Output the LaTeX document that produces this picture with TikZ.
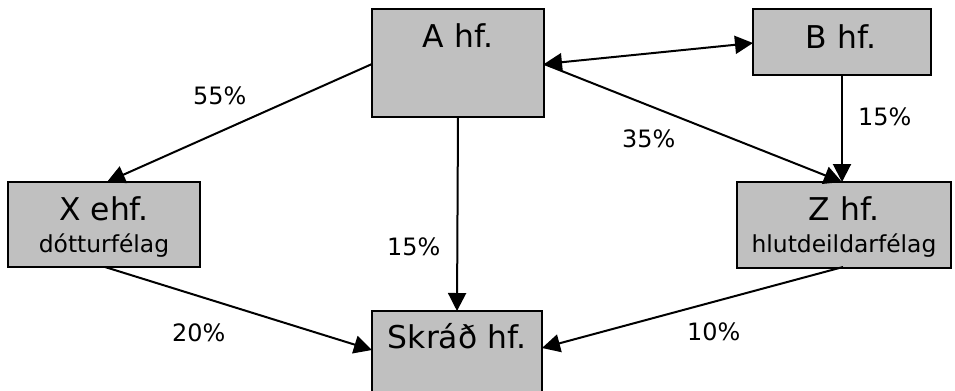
\documentclass[tikz,border=0pt]{standalone}
\usepackage{fontspec}
\setmainfont{DejaVu Sans}
\usetikzlibrary{arrows.meta}
\definecolor{boxgray}{HTML}{C0C0C0}
\tikzset{
  box/.style={draw=black, line width=2bp, fill=boxgray, inner sep=0pt},
  big/.style={font=\fontsize{31.5}{36}\selectfont, inner sep=0pt, anchor=base},
  small/.style={font=\fontsize{23.5}{27}\selectfont, inner sep=0pt, anchor=base},
  pct/.style={font=\fontsize{24}{28}\selectfont, inner sep=0pt, anchor=base west},
  conn/.style={line width=2bp, -{Triangle[length=18bp,width=18bp]}},
  conn2/.style={line width=2bp, {Triangle[length=18bp,width=18bp]}-{Triangle[length=18bp,width=18bp]}},
}
\begin{document}
\begin{tikzpicture}[x=1bp,y=-1bp]
\useasboundingbox (0,0) rectangle (955,390);
% boxes
\node[box, minimum width=172bp, minimum height=108bp] (A) at (458,63) {};
\node[box, minimum width=178bp, minimum height=66bp] (B) at (842,42) {};
\node[box, minimum width=192bp, minimum height=85bp] (X) at (104,224.5) {};
\node[box, minimum width=214bp, minimum height=86bp] (Z) at (844,225) {};
\node[box, minimum width=170bp, minimum height=82bp] (S) at (457,352) {};
% texts
\node[big] (At) at (458,47) {A hf.};
\node[big] (Bt) at (841,48) {B hf.};
\node[big] (Xt) at (104,220) {X ehf.};
\node[small] (Xs) at (104,252) {dótturfélag};
\node[big] (Zt) at (844,220) {Z hf.};
\node[small] (Zs) at (844,252) {hlutdeildarfélag};
\node[big] (St) at (457,348) {Skráð hf.};
% connectors
\coordinate (Aw) at (372,64);
\coordinate (Ae) at (544,64);
\coordinate (Be) at (753,43);
\coordinate (Xn) at (107,182);
\coordinate (Zn) at (842,182);
\coordinate (Bs) at (842,75);
\coordinate (As) at (458,117);
\coordinate (Sn) at (457,311);
\coordinate (Xs2) at (105,267);
\coordinate (Sw) at (372,350);
\coordinate (Zs2) at (843,267);
\coordinate (Se) at (542,348);
\draw[conn] (Aw) -- (Xn);
\draw[conn2] (Ae) -- (Be);
\draw[conn] (Ae) -- (Zn);
\draw[conn] (Bs) -- (Zn);
\draw[conn] (As) -- (Sn);
\draw[conn] (Xs2) -- (Sw);
\draw[conn] (Zs2) -- (Se);
% percentages
\node[pct] (p55) at (193,104) {55\%};
\node[pct] (p35) at (622,147) {35\%};
\node[pct] (p15b) at (858,125) {15\%};
\node[pct] (p15m) at (387,255) {15\%};
\node[pct] (p20) at (172,341) {20\%};
\node[pct] (p10) at (687,340) {10\%};
\end{tikzpicture}
\end{document}
